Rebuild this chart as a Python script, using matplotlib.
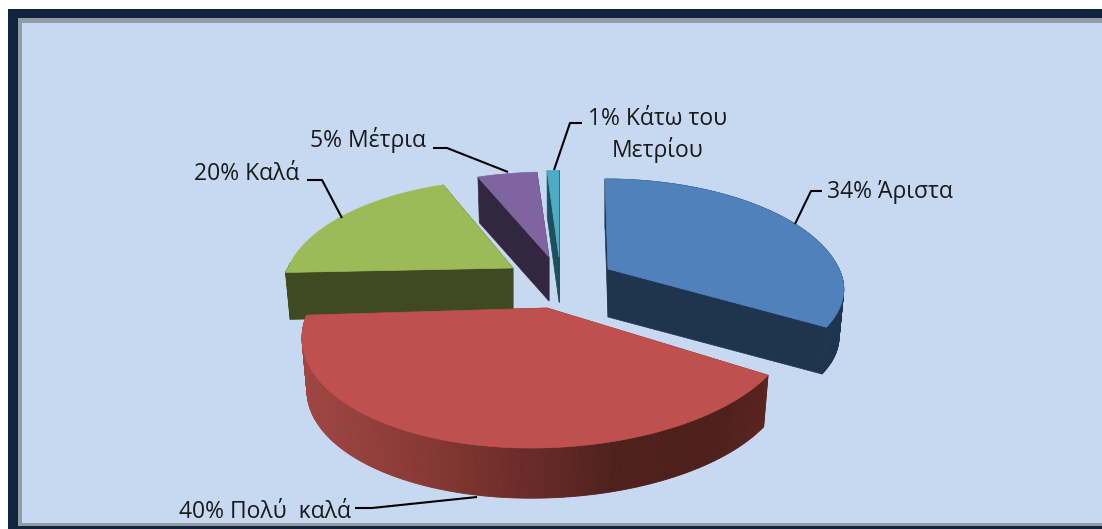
import numpy as np
import matplotlib
matplotlib.use("Agg")
import matplotlib.pyplot as plt
from matplotlib.patches import Polygon, Rectangle

labels = ["34% Άριστα", "40% Πολύ  καλά", "20% Καλά", "5% Μέτρια", "1% Κάτω του\nΜετρίου"]
values = [34, 40, 20, 5, 1]
top_colors = ["#4F81BD", "#C0504D", "#9BBB59", "#8064A2", "#4BACC6"]
side_colors = ["#1F354F", "#7A2F2C", "#3F4A22", "#33263F", "#1E4F5C"]

# layout of each exploded slice:
# apex x, y, radius right, radius left, radius y back, radius y front, shear back, shear front, depth
geometry = [
    (608, 269, 231, 231, 108, 97, 3.6, 0.0, 48),
    (547, 308, 242, 237, 113, 112, 0.0, -13.0, 53),
    (513, 268, 225, 225, 106, 70, 0.0, 0.0, 47),
    (549, 257, 229, 229, 102, 102, 0.0, 0.0, 44),
    (559, 257, 229, 229, 104, 104, 0.0, 0.0, 45),
]
KP = 0.2
BOTTOM_SCALE = 0.98

plt.rcParams["font.family"] = ["Open Sans", "DejaVu Sans"]
fig = plt.figure(figsize=(11.02, 5.29), dpi=100)
ax = fig.add_axes([0, 0, 1, 1])
ax.set_xlim(0, 1102)
ax.set_ylim(529, 0)
ax.axis("off")

ax.add_patch(Rectangle((8, 9), 1094, 519.5, fc="#0F243E", ec="none", zorder=0))
ax.add_patch(Rectangle((18, 18), 1084, 508, fc="#959BA2", ec="none", zorder=0))
ax.add_patch(Rectangle((22, 23), 1080, 500, fc="#C6D9F0", ec="none", zorder=0))


def rim(theta, g):
    cx, cy, rr, rl, ryb, ryf, shb, shf, _ = g
    u, v = np.sin(theta), -np.cos(theta)
    s = 1 / (1 - KP * v)
    rx = np.where(u > 0, rr, rl)
    ry = np.where(v > 0, ryf, ryb)
    sh = np.where(v > 0, shf, shb)
    return cx + (rx * u + sh * v) * s, cy + ry * v * s


def lower(x, y, g):
    cx, cy = g[0], g[1]
    return cx + (x - cx) * BOTTOM_SCALE, cy + g[-1] + (y - cy) * BOTTOM_SCALE


fractions = np.cumsum([0] + values) / sum(values)
red_stops = [(302, "#A04642"), (413, "#8A3A35"), (513, "#6E2D2A"), (613, "#4F211D"), (713, "#4E1F1C"), (767, "#5A2420")]
xs_stop = [p[0] for p in red_stops]
rgb_stop = np.array([matplotlib.colors.to_rgb(p[1]) for p in red_stops])

slices = [(i, fractions[i] * 2 * np.pi, fractions[i + 1] * 2 * np.pi) for i in range(len(values))]

for i, a0, a1 in [slices[4], slices[3], slices[2], slices[0], slices[1]]:
    g = geometry[i]
    th = np.linspace(a0, a1, max(int((a1 - a0) * 80), 6))
    x, y = rim(th, g)
    bx, by = lower(x, y, g)
    apx, apy = g[0], g[1]
    abx, aby = lower(np.array(apx), np.array(apy), g)
    side = side_colors[i]
    # cut faces
    for xe, ye, bxe, bye in [(x[0], y[0], bx[0], by[0]), (x[-1], y[-1], bx[-1], by[-1])]:
        ax.add_patch(Polygon([(apx, apy), (xe, ye), (bxe, bye), (abx, aby)], fc=side, ec=side, lw=0.5, zorder=2 + i * 0.1))
    # outer wall
    for j in range(len(th) - 1):
        if y[j] + y[j + 1] < 2 * apy - 10 and i != 0:
            continue
        if i == 1:
            col = [np.interp((x[j] + x[j + 1]) / 2, xs_stop, rgb_stop[:, k]) for k in range(3)]
        else:
            col = side
        ax.add_patch(Polygon([(x[j], y[j]), (x[j + 1], y[j + 1]), (bx[j + 1], by[j + 1]), (bx[j], by[j])],
                             fc=col, ec=col, lw=0.6, zorder=2.5 + i * 0.1))
    ax.add_patch(Polygon(np.vstack([[apx, apy], np.c_[x, y]]), fc=top_colors[i], ec=top_colors[i], lw=0.5, zorder=3 + i * 0.1))

leaders = [
    [(795, 224), (811, 191), (822, 191)],
    [(477, 497), (372, 508), (355, 508)],
    [(342, 218), (322, 180), (307, 180)],
    [(508, 172), (447, 148), (433, 148)],
    [(554, 170), (570, 123), (582, 123)],
]
for pts in leaders:
    ax.plot(*zip(*pts), color="black", lw=1.5, zorder=5, solid_capstyle="butt")

label_pos = [(827, 192, "left"), (179, 512, "left"), (194, 174, "left"), (310, 140, "left"), (658, 135, "center")]
for lab, (lx, ly, ha) in zip(labels, label_pos):
    ax.text(lx, ly, lab, ha=ha, va="center", fontsize=16.5, color="#1A1A1A", zorder=6, linespacing=1.33)

fig.savefig("out.png", dpi=100)
